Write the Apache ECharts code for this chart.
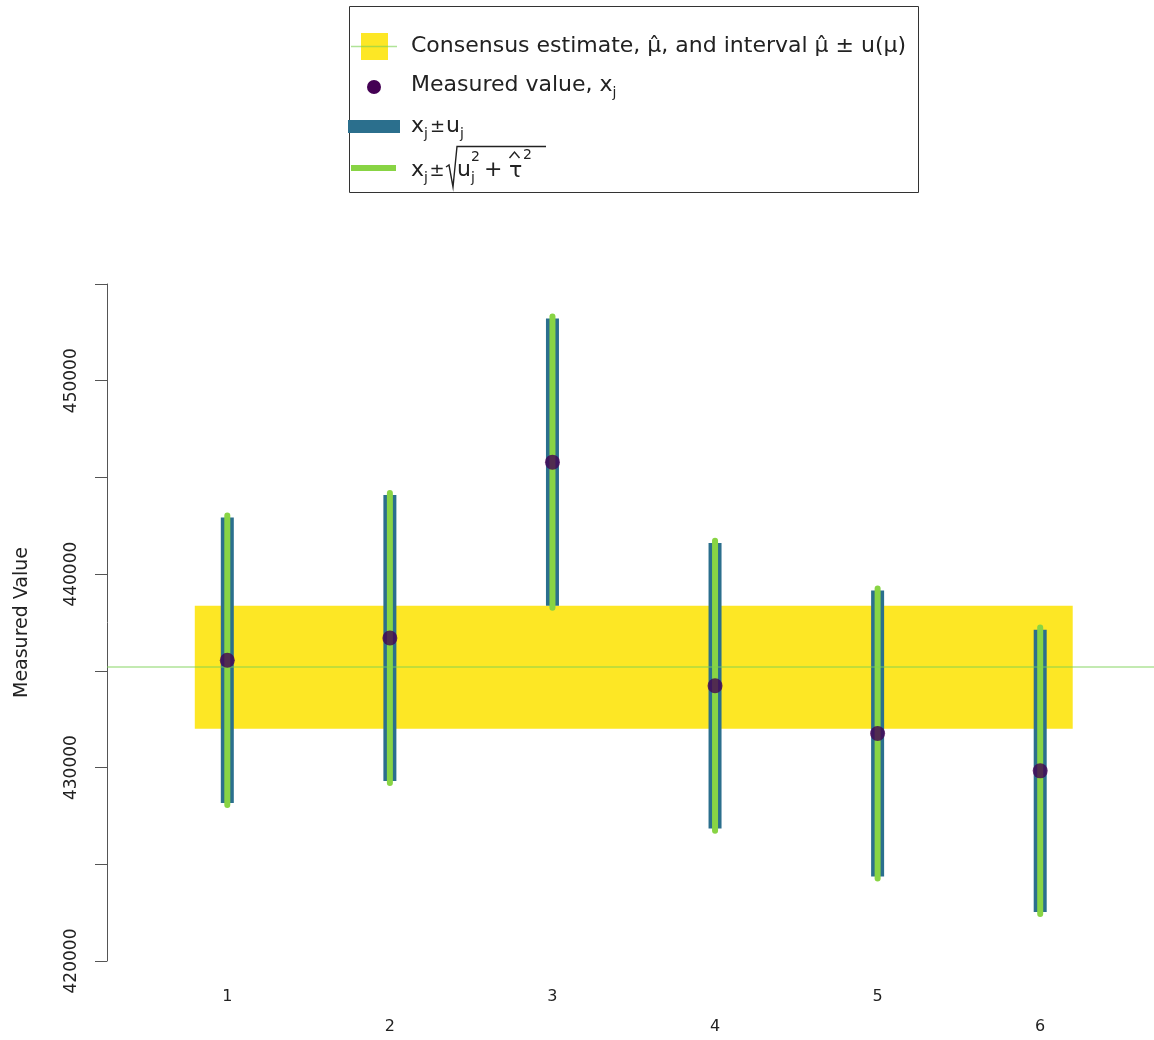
<!DOCTYPE html>
<html>
<head>
<meta charset="utf-8">
<title>Consensus estimate</title>
<script src="https://cdn.jsdelivr.net/npm/echarts@6/dist/echarts.min.js"></script>
<style>
  html, body { margin: 0; padding: 0; background: #ffffff; }
  #chart { width: 1154px; height: 1040px; }
</style>
</head>
<body>
<div id="chart"></div>
<script>
// Laboratories and their measured values with standard uncertainties
const labs = [1, 2, 3, 4, 5, 6];
const measured = [435550, 436700, 445790, 434230, 431760, 429830];
const uncert = [7380, 7390, 7420, 7385, 7395, 7300];
// Dark uncertainty between laboratories
const tauHat = 1250;
// Consensus value and its standard uncertainty
const consensus = 435190;
const consensusU = 3180;
const bandSpan = [0.8, 6.2];
// Axis ranges and ticks
const xRange = [0.26, 6.7];
const yRange = [420000, 455000];
const yStep = 5000;
const yLabelStep = 10000;

const FONT = 'DejaVu Sans';
const C_YELLOW = '#FDE725';
const C_BLUE = '#2B6F8D';
const C_GREEN = '#88D444';
const C_DOT = '#440154';
const C_LINE = 'rgba(122,209,81,0.6)';
const C_TEXT = '#222222';

const chart = echarts.init(document.getElementById('chart'), null, { renderer: 'canvas' });

const bandData = [[bandSpan[0], consensus - consensusU, bandSpan[1], consensus + consensusU]];
const blueData = labs.map((x, i) => [x, measured[i] - uncert[i], measured[i] + uncert[i]]);
const greenData = labs.map((x, i) => {
  const h = Math.sqrt(uncert[i] * uncert[i] + tauHat * tauHat);
  return [x, measured[i] - h, measured[i] + h];
});
const pointData = labs.map((x, i) => [x, measured[i]]);

function barRenderer(color, width, cap) {
  return function (params, api) {
    const p1 = api.coord([api.value(0), api.value(1)]);
    const p2 = api.coord([api.value(0), api.value(2)]);
    return {
      type: 'line',
      shape: { x1: p1[0], y1: p1[1], x2: p2[0], y2: p2[1] },
      style: { stroke: color, lineWidth: width, lineCap: cap }
    };
  };
}

// Legend text styles
const LF = 22;
const SF = 14;
const PM = 18;
const rich = {
  n: { fontFamily: FONT, fontSize: LF, lineHeight: 30, color: C_TEXT, verticalAlign: 'middle' },
  sub: { fontFamily: FONT, fontSize: SF, lineHeight: 14, color: C_TEXT, verticalAlign: 'bottom' }
};
function legendText(x, y, text) {
  return {
    type: 'text', x: x, y: y, z: 101,
    style: { text: text, rich: rich, fontFamily: FONT, fontSize: LF, fill: C_TEXT, verticalAlign: 'middle', align: 'left' }
  };
}
function piece(x, y, text, size) {
  return {
    type: 'text', x: x, y: y, z: 101,
    style: { text: text, fontFamily: FONT, fontSize: size, fill: C_TEXT, verticalAlign: 'middle', align: 'left' }
  };
}

const option = {
  animation: false,
  backgroundColor: '#ffffff',
  grid: { left: 107, right: 0, top: 284, bottom: 79, containLabel: false, outerBoundsMode: 'none' },
  xAxis: {
    type: 'value',
    min: xRange[0],
    max: xRange[1],
    axisLine: { show: false },
    axisTick: { show: false },
    splitLine: { show: false },
    axisLabel: {
      customValues: labs,
      margin: 28,
      fontFamily: FONT,
      fontSize: 16,
      color: C_TEXT,
      formatter: function (v) { return (v % 2 === 1 ? '{o|' : '{e|') + v + '}'; },
      rich: {
        o: { fontFamily: FONT, fontSize: 16, color: C_TEXT },
        e: { fontFamily: FONT, fontSize: 16, color: C_TEXT, padding: [30, 0, 0, 0] }
      }
    }
  },
  yAxis: {
    type: 'value',
    min: yRange[0],
    max: yRange[1],
    interval: yStep,
    name: 'Measured Value',
    nameLocation: 'middle',
    nameGap: 75,
    nameTextStyle: { fontFamily: FONT, fontSize: 19, color: C_TEXT },
    axisLine: { show: true, lineStyle: { color: '#555555', width: 1 } },
    axisTick: { show: true, inside: false, length: 12, lineStyle: { color: '#555555', width: 1 } },
    splitLine: { show: false },
    axisLabel: {
      rotate: 90,
      margin: 27,
      fontFamily: FONT,
      fontSize: 17,
      color: C_TEXT,
      showMinLabel: true,
      showMaxLabel: true,
      formatter: function (v) { return v % yLabelStep === 0 ? String(v) : ''; }
    }
  },
  series: [
    {
      name: 'band',
      type: 'custom',
      z: 1,
      silent: true,
      encode: { x: [0, 2], y: [1, 3] },
      data: bandData,
      renderItem: function (params, api) {
        const a = api.coord([api.value(0), api.value(3)]);
        const b = api.coord([api.value(2), api.value(1)]);
        return {
          type: 'rect',
          shape: { x: a[0], y: a[1], width: b[0] - a[0], height: b[1] - a[1] },
          style: { fill: C_YELLOW }
        };
      },
      markLine: {
        silent: true,
        symbol: 'none',
        label: { show: false },
        lineStyle: { color: C_LINE, width: 1.5, type: 'solid' },
        data: [{ yAxis: consensus }]
      }
    },
    {
      name: 'u',
      type: 'custom',
      z: 3,
      silent: true,
      encode: { x: 0, y: [1, 2] },
      data: blueData,
      renderItem: barRenderer(C_BLUE, 13, 'butt')
    },
    {
      name: 'u-tau',
      type: 'custom',
      z: 4,
      silent: true,
      encode: { x: 0, y: [1, 2] },
      data: greenData,
      renderItem: barRenderer(C_GREEN, 6, 'round')
    },
    {
      name: 'x',
      type: 'scatter',
      z: 5,
      silent: true,
      symbol: 'circle',
      symbolSize: 15,
      itemStyle: { color: C_DOT },
      data: pointData
    }
  ],
  graphic: [
    { type: 'rect', z: 100, shape: { x: 349.5, y: 6.5, width: 569, height: 186 },
      style: { fill: '#ffffff', stroke: '#333333', lineWidth: 1 } },
    // key: consensus
    { type: 'rect', z: 101, shape: { x: 361, y: 33, width: 27, height: 27 }, style: { fill: C_YELLOW } },
    { type: 'line', z: 102, shape: { x1: 351, y1: 46.5, x2: 397, y2: 46.5 }, style: { stroke: C_LINE, lineWidth: 1.5 } },
    legendText(411, 46, '{n|Consensus estimate, μ̂, and interval μ̂ ± u(μ)}'),
    // key: measured value
    { type: 'circle', z: 101, shape: { cx: 374, cy: 87, r: 7 }, style: { fill: C_DOT } },
    legendText(411, 85, '{n|Measured value, x}{sub|j}'),
    // key: x ± u
    { type: 'rect', z: 101, shape: { x: 348, y: 120, width: 52, height: 13 }, style: { fill: C_BLUE } },
    piece(411, 126, 'x', LF),
    piece(424, 134, 'j', SF),
    piece(430, 127, '±', PM),
    piece(446, 126, 'u', LF),
    piece(460, 134, 'j', SF),
    // key: x ± sqrt(u^2 + tau^2)
    { type: 'line', z: 101, shape: { x1: 351, y1: 168, x2: 396, y2: 168 }, style: { stroke: C_GREEN, lineWidth: 6 } },
    piece(411, 170, 'x', LF),
    piece(424, 178, 'j', SF),
    piece(429.5, 171, '±', PM),
    { type: 'polyline', z: 101, shape: { points: [[446, 167], [449, 165], [453, 187], [457, 146.5], [546, 146.5]] },
      style: { stroke: C_TEXT, lineWidth: 1.4, fill: null } },
    piece(457, 170, 'u', LF),
    piece(471, 178, 'j', SF),
    piece(471, 157, '2', SF),
    piece(484, 170, '+', LF),
    piece(509, 171, 'τ', LF),
    { type: 'polyline', z: 101, shape: { points: [[509.5, 158], [514.5, 152], [519.5, 158]] },
      style: { stroke: C_TEXT, lineWidth: 1.4, fill: null } },
    piece(523, 155, '2', SF)
  ]
};

chart.setOption(option);
</script>
</body>
</html>
